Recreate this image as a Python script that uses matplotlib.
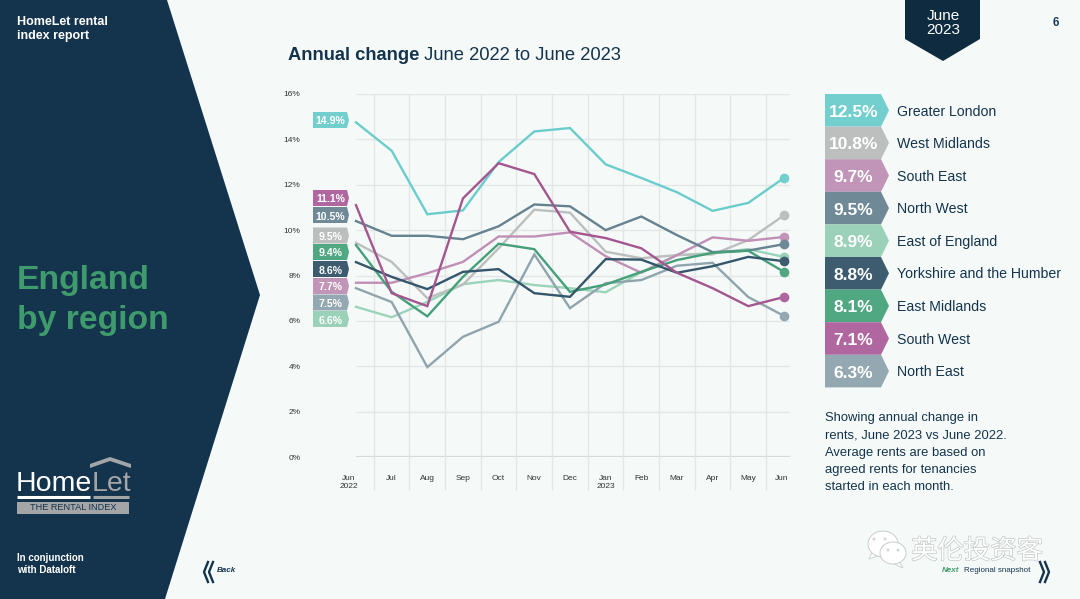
import matplotlib
matplotlib.use('Agg')
import matplotlib.pyplot as plt
from matplotlib.patches import Polygon, Ellipse
import matplotlib.patheffects as pe

plt.rcParams['font.family'] = ['Liberation Sans', 'DejaVu Sans']

months = ['Jun\n2022', 'Jul', 'Aug', 'Sep', 'Oct', 'Nov', 'Dec', 'Jan\n2023', 'Feb', 'Mar', 'Apr', 'May', 'Jun']
y_ticks = [0, 2, 4, 6, 8, 10, 12, 14, 16]

greater_london = [14.75, 13.5, 10.7, 10.87, 13.0, 14.35, 14.5, 12.9, 12.3, 11.67, 10.85, 11.2, 12.3]
west_midlands = [9.44, 8.6, 7.0, 7.6, 9.2, 10.9, 10.77, 9.05, 8.76, 8.9, 8.93, 9.56, 10.65]
south_east = [7.68, 7.68, 8.1, 8.6, 9.72, 9.72, 9.9, 8.85, 8.12, 8.9, 9.68, 9.53, 9.7]
north_west = [10.4, 9.75, 9.75, 9.6, 10.17, 11.13, 11.05, 10.0, 10.6, 9.78, 9.03, 9.1, 9.38]
east_of_england = [6.62, 6.16, 6.84, 7.62, 7.8, 7.58, 7.44, 7.26, 8.15, 8.9, 8.98, 9.16, 8.82]
yorkshire = [8.59, 7.94, 7.4, 8.16, 8.28, 7.22, 7.06, 8.72, 8.7, 8.12, 8.41, 8.82, 8.63]
east_midlands = [9.34, 7.28, 6.2, 7.94, 9.4, 9.16, 7.28, 7.6, 8.16, 8.68, 9.0, 9.09, 8.16]
south_west = [11.1, 7.22, 6.65, 11.4, 12.95, 12.47, 9.93, 9.65, 9.2, 8.12, 7.44, 6.65, 7.05]
north_east = [7.44, 6.83, 3.96, 5.3, 5.96, 8.93, 6.56, 7.66, 7.8, 8.43, 8.56, 7.05, 6.22]

regions = ['Greater London', 'West Midlands', 'South East', 'North West', 'East of England',
           'Yorkshire and the Humber', 'East Midlands', 'South West', 'North East']
latest_labels = ['12.5%', '10.8%', '9.7%', '9.5%', '8.9%', '8.8%', '8.1%', '7.1%', '6.3%']
start_labels = ['14.9%', '9.5%', '7.7%', '10.5%', '6.6%', '8.6%', '9.4%', '11.1%', '7.5%']

series = [greater_london, west_midlands, south_east, north_west, east_of_england,
          yorkshire, east_midlands, south_west, north_east]
tag_colors = ['#72cfcd', '#bcbfbe', '#c195b8', '#6f8997', '#9bd1b9', '#3d5c70', '#50a882', '#b0669f', '#93a8b0']
line_colors = ['#6bcdcb', '#bcbfbe', '#c08fb5', '#66818f', '#9bd3bb', '#35566b', '#45a07a', '#a4568f', '#8fa4ad']

navy = '#14344d'
bg = '#f5faf9'
grid = '#e2e6e6'

fig = plt.figure(figsize=(10.8, 5.99), dpi=100, facecolor=bg)

# page furniture is placed in pixels
page = fig.add_axes([0, 0, 1, 1])
page.set_xlim(0, 1080)
page.set_ylim(599, 0)
page.axis('off')


def tag(x0, x1, tip, y0, y1, color, label, size):
    page.add_patch(Polygon([(x0, y0), (x1, y0), (tip, (y0 + y1) / 2), (x1, y1), (x0, y1)],
                           facecolor=color, edgecolor='none', zorder=3))
    page.text((x0 + x1) / 2 + 0.5, (y0 + y1) / 2 + 0.5, label, color='white', fontsize=size, fontweight='bold',
              ha='center', va='center_baseline', zorder=4)


page.add_patch(Polygon([(0, 0), (167, 0), (260, 295), (165, 599), (0, 599)], facecolor=navy, edgecolor='none'))
page.text(17, 22, 'HomeLet rental', color='white', fontsize=9, fontweight='bold', va='center')
page.text(17, 36, 'index report', color='white', fontsize=9, fontweight='bold', va='center')
page.text(17, 281, 'England', color='#3f9a6c', fontsize=24.3, fontweight='bold', va='center')
page.text(17, 320, 'by region', color='#3f9a6c', fontsize=24.3, fontweight='bold', va='center')
page.text(17, 558, 'In conjunction', color='white', fontsize=7, fontweight='bold', va='center')
page.text(17, 570, 'with Dataloft', color='white', fontsize=7, fontweight='bold', va='center')

# logo
page.text(16, 491, 'Home', color='white', fontsize=20.5, va='baseline')
page.text(92, 491, 'Let', color='#a3a5a6', fontsize=20.5, va='baseline')
page.add_patch(Polygon([(90, 464), (110, 457), (131, 464), (131, 468), (110, 461), (90, 468)], facecolor='#a3a5a6', edgecolor='none'))
page.plot([17, 90], [496.5, 496.5], color='white', lw=2.2, solid_capstyle='butt')
page.plot([93, 129], [496.5, 496.5], color='#a3a5a6', lw=2.2, solid_capstyle='butt')
page.add_patch(Polygon([(17, 502), (129, 502), (129, 514), (17, 514)], facecolor='#a3a5a6', edgecolor='none'))
page.text(73, 508, 'THE RENTAL INDEX', color=navy, fontsize=6.6, ha='center', va='center')

# date ribbon and page number
page.add_patch(Polygon([(905, 0), (980, 0), (980, 39), (943, 61), (905, 39)], facecolor='#0f2b40', edgecolor='none'))
page.text(943, 16, 'June', color='white', fontsize=11, ha='center', va='center')
page.text(943, 30, '2023', color='white', fontsize=11, ha='center', va='center')
page.text(1056, 23, '6', color='#1e3f5a', fontsize=8.5, fontweight='bold', ha='center', va='center')

title = page.text(288, 55, 'Annual change', color=navy, fontsize=13.2, fontweight='bold', va='center')
page.annotate(' June 2022 to June 2023', xy=(1, 0), xycoords=title, color=navy, fontsize=13.2, va='bottom')

# tags at the start of the lines, stacked as in the report
left_order = [7, 3, 1, 6, 5, 2, 8, 4]
left_tops = [190, 207, 227.5, 244, 261, 278, 294.5, 311]
tag(313, 347, 349, 112, 128, tag_colors[0], start_labels[0], 7.6)
for i, top in zip(left_order, left_tops):
    tag(313, 347, 349, top, top + 16, tag_colors[i], start_labels[i], 7.6)

# legend column
for i, name in enumerate(regions):
    top = 94 + i * 32.6
    tag(825, 881, 889, top, top + 32.6, tag_colors[i], latest_labels[i], 12.5)
    page.text(897, top + 17.5, name, color=navy, fontsize=10.15, va='center')

note = ['Showing annual change in', 'rents, June 2023 vs June 2022.', 'Average rents are based on',
        'agreed rents for tenancies', 'started in each month.']
for i, line in enumerate(note):
    page.text(825, 418.5 + i * 17.2, line, color=navy, fontsize=9.4, va='center')

# navigation
for dx in [0, 5]:
    page.plot([208 + dx, 204 + dx, 208 + dx], [562, 572, 582], color=navy, lw=1.7)
    page.plot([1040 + dx, 1044 + dx, 1040 + dx], [562, 572, 582], color=navy, lw=1.7)
page.text(217, 571, 'Back', color=navy, fontsize=5.8, fontweight='bold', fontstyle='italic', va='center')
page.text(942, 571, 'Next', color='#3f9a6c', fontsize=5.8, fontweight='bold', fontstyle='italic', va='center')
page.text(964, 571, 'Regional snapshot', color=navy, fontsize=5.8, va='center')

# watermark
page.add_patch(Polygon([(872, 552), (869, 559), (880, 555)], facecolor='white', edgecolor='#c9cccc', lw=0.6, zorder=5))
page.add_patch(Ellipse((883, 544), 30, 26, facecolor='white', edgecolor='#c9cccc', lw=0.7, zorder=5))
page.add_patch(Polygon([(898, 560), (903, 568), (892, 563)], facecolor='white', edgecolor='#c9cccc', lw=0.6, zorder=5))
page.add_patch(Ellipse((893, 553), 26, 22, facecolor='white', edgecolor='#c9cccc', lw=0.7, zorder=5))
for ex, ey in [(874, 539), (885, 539), (888, 550), (898, 550)]:
    page.add_patch(Ellipse((ex, ey), 3, 3, facecolor='#d4d7d7', edgecolor='none', zorder=6))
page.text(977, 551, '英伦投资客', family=['Noto Sans CJK SC', 'DejaVu Sans'], color='white', fontsize=19,
          ha='center', va='center', zorder=5,
          path_effects=[pe.withStroke(linewidth=0.9, foreground='#bfc3c3')])

# chart axes: 356 to 790 px wide, 0% at 457 px and 16% at 94 px
ax = fig.add_axes([356 / 1080, 1 - 457 / 599, 434 / 1080, 363 / 599])
ax.patch.set_alpha(0)
for side in ax.spines.values():
    side.set_visible(False)

ax.set_yticks(y_ticks)
ax.set_yticklabels([f'{v}%' for v in y_ticks], fontsize=6, color='#333333')
ax.tick_params(axis='y', length=0, pad=40)
ax.set_xticks([1, 2, 3, 4, 5, 6, 7, 8, 9, 10, 11, 11.93])
ax.set_xticklabels(months[1:], fontsize=6, color='#333333', linespacing=1.1, va='top')
ax.tick_params(axis='x', length=0, pad=13)

# first month label sits left of the axes, a tick there would be dropped
ax.annotate(months[0], xy=(-0.2, 0), xycoords=('data', 'axes fraction'), xytext=(0, -13),
            textcoords='offset points', fontsize=6, color='#333333', linespacing=1.1,
            ha='center', va='top', annotation_clip=False)

ax.hlines(y_ticks, 0, 12.17, color=grid, lw=1, zorder=1)
ax.hlines(0, 0, 12.17, color='#d5d9d9', lw=1.6, zorder=1)
ax.vlines([m + 0.5 for m in range(12)], -1.45, 16, color=grid, lw=1, zorder=1, clip_on=False)

x = list(range(len(months)))
draw_order = [4, 1, 8, 2, 3, 0, 6, 5, 7]
for i in draw_order:
    ax.plot(x, series[i], color=line_colors[i], lw=1.7, zorder=3, clip_on=False, solid_joinstyle='miter')
    ax.plot(x[-1], series[i][-1], 'o', color=tag_colors[i], ms=7, mec='none', zorder=4, clip_on=False)

ax.set_xlim(0, 12.17)
ax.set_ylim(0, 16)

fig.savefig('out.png', dpi=100, facecolor=bg)
